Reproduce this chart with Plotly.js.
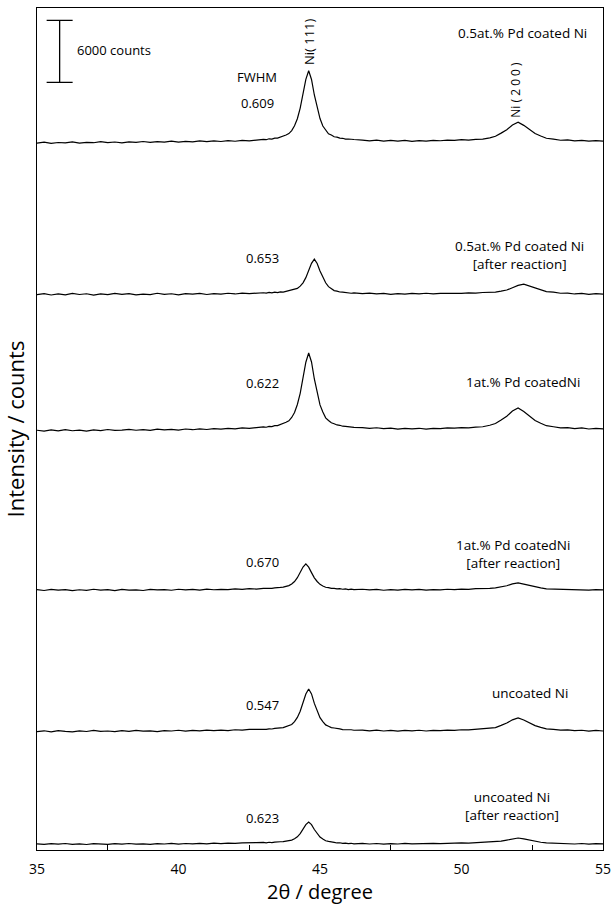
<!DOCTYPE html>
<html>
<head>
<meta charset="utf-8">
<script src="https://cdn.plot.ly/plotly-3.0.1.min.js"></script>
<style>html,body{margin:0;padding:0;background:#fff;}#chart{width:611px;height:906px;}</style>
</head>
<body>
<div id="chart"></div>
<script>
// 2theta grid (degrees)
const twoTheta = [
  35, 35.25, 35.5, 35.75, 36, 36.25, 36.5, 36.75, 37, 37.25, 37.5, 37.75, 38, 38.25, 38.5, 38.75,
  39, 39.25, 39.5, 39.75, 40, 40.25, 40.5, 40.75, 41, 41.25, 41.5, 41.75, 42, 42.25, 42.5, 42.75,
  43, 43.1, 43.2, 43.3, 43.4, 43.5, 43.6, 43.7, 43.8, 43.9, 44, 44.1, 44.2, 44.3, 44.4, 44.5, 44.6,
  44.7, 44.8, 44.9, 45, 45.1, 45.2, 45.3, 45.4, 45.5, 45.6, 45.7, 45.8, 45.9, 46, 46.1, 46.2,
  46.5, 46.75, 47, 47.25, 47.5, 47.75, 48, 48.25, 48.5, 48.75, 49, 49.25, 49.5, 49.75, 50, 50.25, 50.5, 50.75,
  51, 51.2, 51.4, 51.6, 51.8, 52, 52.2, 52.4, 52.6, 52.8, 53,
  53.25, 53.5, 53.75, 54, 54.25, 54.5, 54.75, 55
];

// Intensities above each pattern's own baseline (counts)
const pd05 = [
  -180,-90,-200,-120,-160,-60,-170,-100,-140,-40,-130,-70,-150,-50,-100,-20,-110,-30,-80,10,-90,-10,-60,30,-40,40,-20,60,0,90,40,120,
  180,150,240,210,300,310,400,450,600,740,1040,1500,2180,3210,4500,6000,6820,5980,4480,3190,2200,1480,1050,730,600,440,400,300,290,210,220,160,170,
  120,40,110,20,90,10,80,-10,70,20,90,50,110,90,150,120,190,210,
  330,480,790,1120,1580,1840,1540,1160,750,510,290,
  200,100,130,40,90,10,70,20
];
const pd05After = [
  -40,60,-80,30,-60,80,-30,40,-90,20,-50,70,-20,50,-70,10,-40,90,-10,40,-60,60,0,80,-30,50,10,90,20,110,60,130,
  140,110,170,130,190,160,230,200,270,300,350,420,560,780,1100,1600,2240,2990,3390,2970,2250,1580,1100,730,530,350,300,210,200,140,150,90,120,
  60,100,20,80,-10,60,0,70,20,90,30,80,60,110,70,120,100,160,
  170,200,290,400,620,850,970,800,590,420,250,
  190,90,110,20,80,-10,60,0
];
const pd1 = [
  -120,-210,-90,-180,-60,-170,-110,-200,-80,-150,-50,-140,-100,-30,-120,-60,-130,-20,-90,-40,-110,0,-70,20,-50,40,-10,70,10,100,60,150,
  200,170,260,230,320,330,440,480,650,790,1120,1600,2370,3450,4870,6460,7360,6490,4840,3470,2330,1640,1080,820,600,510,390,360,270,260,200,210,150,
  130,60,120,30,80,-10,60,10,70,-20,60,30,110,80,140,110,190,220,
  360,530,870,1240,1740,2030,1700,1280,830,560,320,
  220,110,140,40,100,0,70,10
];
const pd1After = [
  30,-50,60,-20,40,-70,20,-40,70,-10,30,-60,50,-20,10,-50,60,0,40,-30,70,10,50,-10,80,20,60,30,100,50,120,90,
  150,130,180,160,210,200,250,280,330,420,580,820,1190,1670,2220,2520,2210,1680,1170,820,540,390,260,230,150,160,100,120,70,100,40,80,30,
  70,10,60,-30,40,-10,50,0,60,-20,40,10,70,30,90,60,120,110,
  160,200,300,410,590,680,560,430,270,200,100,
  90,20,70,-10,50,-20,40,0
];
const uncoated = [
  -60,20,-90,40,-30,-80,10,-50,50,-40,0,-70,30,-30,60,-20,20,-60,40,0,70,-20,50,10,80,30,90,40,120,80,150,130,
  180,150,210,190,250,240,300,320,400,480,630,900,1310,1910,2690,3580,4070,3590,2670,1930,1290,910,590,460,330,290,210,200,140,150,100,120,70,
  90,20,80,0,60,-20,50,10,70,0,60,30,90,60,120,100,160,170,
  230,330,540,770,1080,1260,1060,790,520,350,200,
  150,80,110,30,70,-10,50,0
];
const uncoatedAfter = [
  20,-40,30,-20,50,-30,10,-50,40,0,-30,30,-10,50,-20,20,-40,40,0,60,-10,50,10,70,20,80,40,90,60,110,90,130,
  150,120,170,140,190,170,220,230,270,310,380,510,700,1010,1410,1870,2130,1880,1400,1020,670,480,310,250,170,160,100,120,60,90,40,70,20,
  60,0,50,-20,40,0,60,10,50,20,70,30,80,60,110,90,140,130,
  170,210,280,380,500,580,490,370,240,170,100,
  80,30,70,0,50,-10,40,10
];

const patterns = [pd05, pd05After, pd1, pd1After, uncoated, uncoatedAfter];
// vertical stacking offsets (counts)
const stackOffsets = [68600, 53800, 40750, 25170, 11520, 580];
const sampleNames = [
  '0.5at.% Pd coated Ni',
  '0.5at.% Pd coated Ni<br>[after reaction]',
  '1at.% Pd coatedNi',
  '1at.% Pd coatedNi<br>[after reaction]',
  'uncoated Ni',
  'uncoated Ni<br>[after reaction]'
];
const fwhmValues = ['0.609', '0.653', '0.622', '0.670', '0.547', '0.623'];
const xTickVals = [35, 40, 45, 50, 55];
const scaleBarCounts = 6000;

const FONT = 'Open Sans, Noto Sans, sans-serif';

const traces = patterns.map((p, i) => ({
  type: 'scatter', mode: 'lines',
  x: twoTheta,
  y: p.map(v => v + stackOffsets[i]),
  line: {color: '#000', width: 1.2},
  hoverinfo: 'skip', showlegend: false
}));

// scale bar drawn as an error bar
traces.push({
  type: 'scatter', mode: 'markers',
  x: [35.8], y: [77300],
  marker: {size: 1, opacity: 0},
  error_y: {type: 'data', array: [scaleBarCounts / 2], symmetric: true, width: 13, thickness: 1.3, color: '#000'},
  hoverinfo: 'skip', showlegend: false
});

// label positions (paper coordinates)
const sampleLabelPos = [[0.857, 0.970], [0.852, 0.707], [0.859, 0.556], [0.841, 0.352], [0.871, 0.187], [0.839, 0.052]];
const fwhmLabelPos = [[0.389, 0.887], [0.398, 0.703], [0.398, 0.555], [0.398, 0.342], [0.398, 0.172], [0.398, 0.038]];

const annotations = [];
sampleNames.forEach((t, i) => annotations.push({
  xref: 'paper', yref: 'paper', x: sampleLabelPos[i][0], y: sampleLabelPos[i][1],
  text: t, showarrow: false, xanchor: 'center', yanchor: 'middle', align: 'center',
  font: {family: FONT, size: 13.5, color: '#000'}
}));
fwhmValues.forEach((t, i) => annotations.push({
  xref: 'paper', yref: 'paper', x: fwhmLabelPos[i][0], y: fwhmLabelPos[i][1],
  text: t, showarrow: false, xanchor: 'center', yanchor: 'middle',
  font: {family: FONT, size: 13, color: '#000'}
}));
annotations.push({xref: 'paper', yref: 'paper', x: 0.389, y: 0.918, text: 'FWHM', showarrow: false,
  xanchor: 'center', yanchor: 'middle', font: {family: FONT, size: 13, color: '#000'}});
annotations.push({xref: 'paper', yref: 'paper', x: 0.067, y: 0.950, text: scaleBarCounts + ' counts', showarrow: false,
  xanchor: 'left', yanchor: 'middle', font: {family: FONT, size: 13, color: '#000'}});
annotations.push({xref: 'paper', yref: 'paper', x: 0.4806, y: 0.9596, text: 'Ni( 111)', showarrow: false, textangle: -90,
  xanchor: 'center', yanchor: 'middle', font: {family: FONT, size: 13, color: '#000'}});
annotations.push({xref: 'paper', yref: 'paper', x: 0.8463, y: 0.903, text: 'Ni ( 2 0 0 )', showarrow: false, textangle: -90,
  xanchor: 'center', yanchor: 'middle', font: {family: FONT, size: 12, color: '#000'}});

const layout = {
  width: 611, height: 906,
  margin: {l: 37, r: 8, t: 8, b: 56},
  paper_bgcolor: '#fff', plot_bgcolor: '#fff',
  font: {family: FONT, color: '#000'},
  showlegend: false,
  hovermode: false,
  xaxis: {
    range: [35, 55], showline: true, linecolor: '#000', linewidth: 1, mirror: true,
    showgrid: false, zeroline: false,
    tickmode: 'array', tickvals: xTickVals, ticks: '',
    ticklabelstandoff: 6, ticklabeloverflow: 'allow',
    tickfont: {family: FONT, size: 14, color: '#000'},
    minor: {ticks: 'inside', ticklen: 5, tickcolor: '#000', tickwidth: 1, tickmode: 'array', tickvals: [37.5, 42.5, 47.5, 52.5], showgrid: false},
    title: {text: '2θ / degree', font: {family: FONT, size: 20, color: '#000'}, standoff: 6}
  },
  yaxis: {
    range: [0, 81500], showline: true, linecolor: '#000', linewidth: 1, mirror: true,
    showgrid: false, zeroline: false, showticklabels: false, ticks: '',
    title: {text: 'Intensity / counts', font: {family: FONT, size: 22, color: '#000'}, standoff: 6}
  },
  annotations: annotations
};

Plotly.newPlot('chart', traces, layout, {displayModeBar: false, staticPlot: true});
</script>
</body>
</html>
